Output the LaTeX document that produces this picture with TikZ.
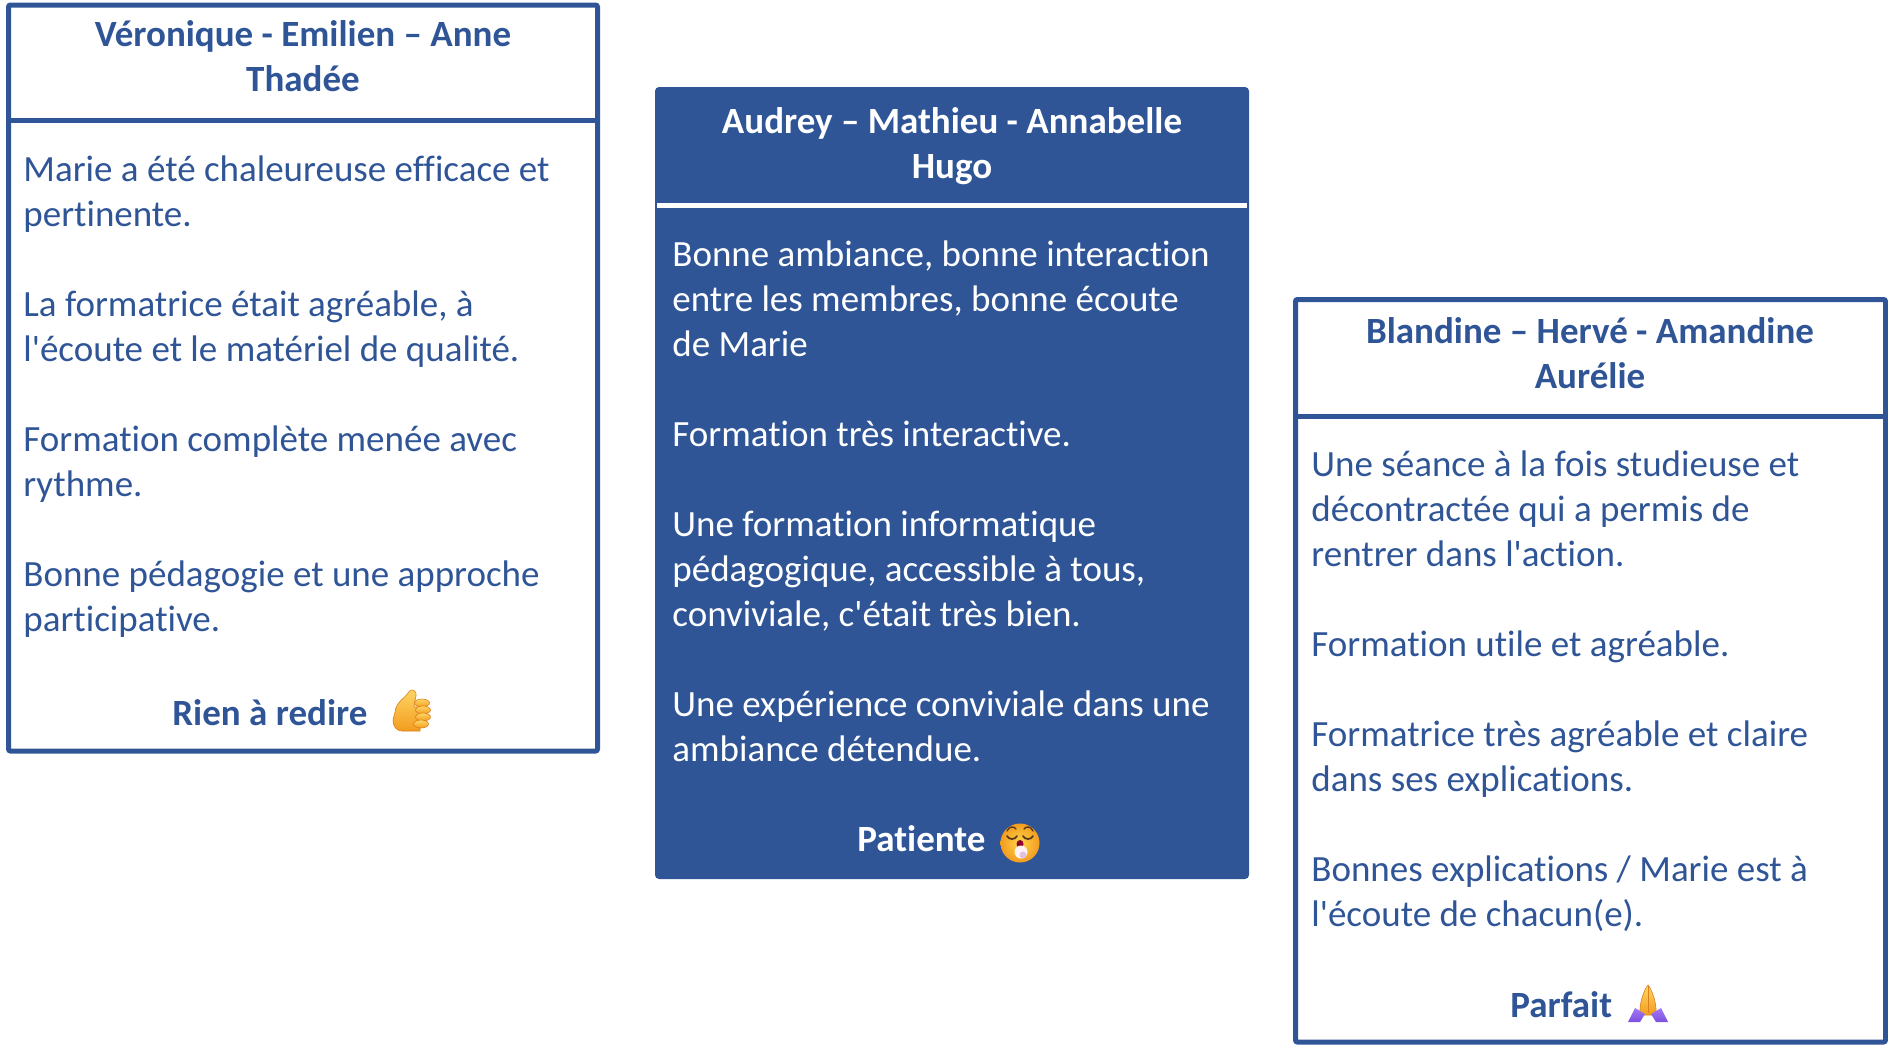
\documentclass[tikz,border=0pt]{standalone}
\usepackage{fontspec}
\setmainfont{Carlito}[Ligatures=NoCommon]
\newfontfamily\carl{Carlito}[Ligatures=NoCommon]
\definecolor{ppblue}{HTML}{2F5597}
\definecolor{emoyel}{HTML}{FFD54A}
\definecolor{emoora}{HTML}{F39C1F}
\definecolor{emodark}{HTML}{D9801A}
\definecolor{emolight}{HTML}{FFD766}
\definecolor{emopur}{HTML}{7B4FE0}
\definecolor{emopurl}{HTML}{A27BF5}
\definecolor{emobrown}{HTML}{5A3A1E}
\tikzset{
  cardframe/.style={draw=ppblue, line width=2.5pt, rounded corners=1pt},
  cardsep/.style={line width=2.5pt},
  titletxt/.style={anchor=north, align=center, inner sep=0pt, font=\carl\fontsize{18.5pt}{22.5pt}\selectfont\bfseries},
  bodytxt/.style={anchor=north west, align=left, inner sep=0pt, font=\carl\fontsize{18.5pt}{22.5pt}\selectfont},
  foottxt/.style={anchor=base west, inner sep=0pt, font=\carl\fontsize{18.5pt}{22.5pt}\selectfont\bfseries},
  skin/.style={top color=emolight, bottom color=emoora},
  skinedge/.style={draw=emodark, line width=0.3pt},
}
\begin{document}
\begin{tikzpicture}[x=0.5pt,y=-0.5pt]
\useasboundingbox (0,0) rectangle (1888,1050);
% ---------- left card ----------
\draw[cardframe] (8.5,5) rectangle (597.5,751);
\draw[cardsep, ppblue] (8.5,120.5) -- (597.5,120.5);
\node[titletxt, text=ppblue] (lt) at (303,14.5) {\strut Véronique - Emilien – Anne\\Thadée};
\node[bodytxt, text=ppblue] (lb) at (23,149.5) {\strut Marie a été chaleureuse efficace et\\pertinente.\\[22.5pt]
La formatrice était agréable, à\\l'écoute et le matériel de qualité.\\[22.5pt]
Formation complète menée avec\\rythme.\\[22.5pt]
Bonne pédagogie et une approche\\participative.};
\node[foottxt, text=ppblue] (lf) at (172,725) {Rien à redire};
% thumbs up, drawn
\coordinate (lemo) at (408,710);
\begin{scope}[shift={(lemo)}]
  \shade[skin, skinedge] (-13,2) .. controls (-12,-8) and (-3,-12) .. (0,-17)
     .. controls (2,-22) and (9,-21) .. (8,-14) .. controls (7,-9) and (6,-6) .. (6,-3)
     -- (12,-3) -- (12,21) -- (-6,21) .. controls (-12,21) and (-15,16) .. (-15,10) -- cycle;
  \foreach \fy/\fx in {-7/14,0/15,7/15,14/13}{
    \shade[skin, skinedge] (\fx,\fy) ellipse [x radius=7.5, y radius=4];
  }
\end{scope}
% ---------- middle card ----------
\fill[ppblue, rounded corners=2pt] (655,87) rectangle (1249,879);
\draw[cardsep, white] (657,205.5) -- (1247,205.5);
\node[titletxt, text=white] (mt) at (952,101.5) {\strut Audrey – Mathieu - Annabelle\\Hugo};
\node[bodytxt, text=white] (mb) at (672,234.5) {\strut Bonne ambiance, bonne interaction\\entre les membres, bonne écoute\\de Marie\\[22.5pt]
Formation très interactive.\\[22.5pt]
Une formation informatique\\pédagogique, accessible à tous,\\conviviale, c'était très bien.\\[22.5pt]
Une expérience conviviale dans une\\ambiance détendue.};
\node[foottxt, text=white] (mf) at (857,851) {Patiente};
% face exhaling, drawn
\coordinate (face) at (1020,843);
\begin{scope}[shift={(face)}]
  \shade[inner color=emoyel, outer color=emoora] (0,0) circle (19.5);
  \draw[emobrown, line width=0.9pt, line cap=round] (-13,-7) .. controls (-11,-3) and (-5,-3) .. (-3,-7);
  \draw[emobrown, line width=0.9pt, line cap=round] (3,-7) .. controls (5,-3) and (11,-3) .. (13,-7);
  \draw[emobrown, line width=0.7pt, line cap=round] (-13,-12) .. controls (-11,-17) and (-6,-17) .. (-4,-14);
  \draw[emobrown, line width=0.7pt, line cap=round] (4,-14) .. controls (6,-17) and (11,-17) .. (13,-12);
  \fill[purple!75!black] (0,1) ellipse [x radius=3.5, y radius=4];
  \fill[white!80!pink] (1,9) circle (6.5);
  \fill[white!60!violet!60] (3,12) circle (3.5);
\end{scope}
% ---------- right card ----------
\draw[cardframe] (1295.5,299.5) rectangle (1885.5,1042);
\draw[cardsep, ppblue] (1295.5,416.5) -- (1885.5,416.5);
\node[titletxt, text=ppblue] (rt) at (1590,311.5) {\strut Blandine – Hervé - Amandine\\Aurélie};
\node[bodytxt, text=ppblue] (rb) at (1311,444.5) {\strut Une séance à la fois studieuse et\\décontractée qui a permis de\\rentrer dans l'action.\\[22.5pt]
Formation utile et agréable.\\[22.5pt]
Formatrice très agréable et claire\\dans ses explications.\\[22.5pt]
Bonnes explications / Marie est à\\l'écoute de chacun(e).};
\node[foottxt, text=ppblue] (rf) at (1510,1017) {Parfait};
% folded hands, drawn
\coordinate (remo) at (1648,1003);
\begin{scope}[shift={(remo)}]
  \shade[skin, skinedge] (-8,12) .. controls (-9,0) and (-4,-13) .. (0,-18)
     .. controls (4,-13) and (9,0) .. (8,12) -- cycle;
  \draw[emodark, line width=0.4pt] (0,-17) -- (0,10);
  \shade[top color=emopurl, bottom color=emopur] (-20,19) -- (-13,5) -- (-3,11) -- (-8,19) -- cycle;
  \shade[top color=emopurl, bottom color=emopur] (20,19) -- (13,5) -- (3,11) -- (8,19) -- cycle;
\end{scope}
\end{tikzpicture}
\end{document}
